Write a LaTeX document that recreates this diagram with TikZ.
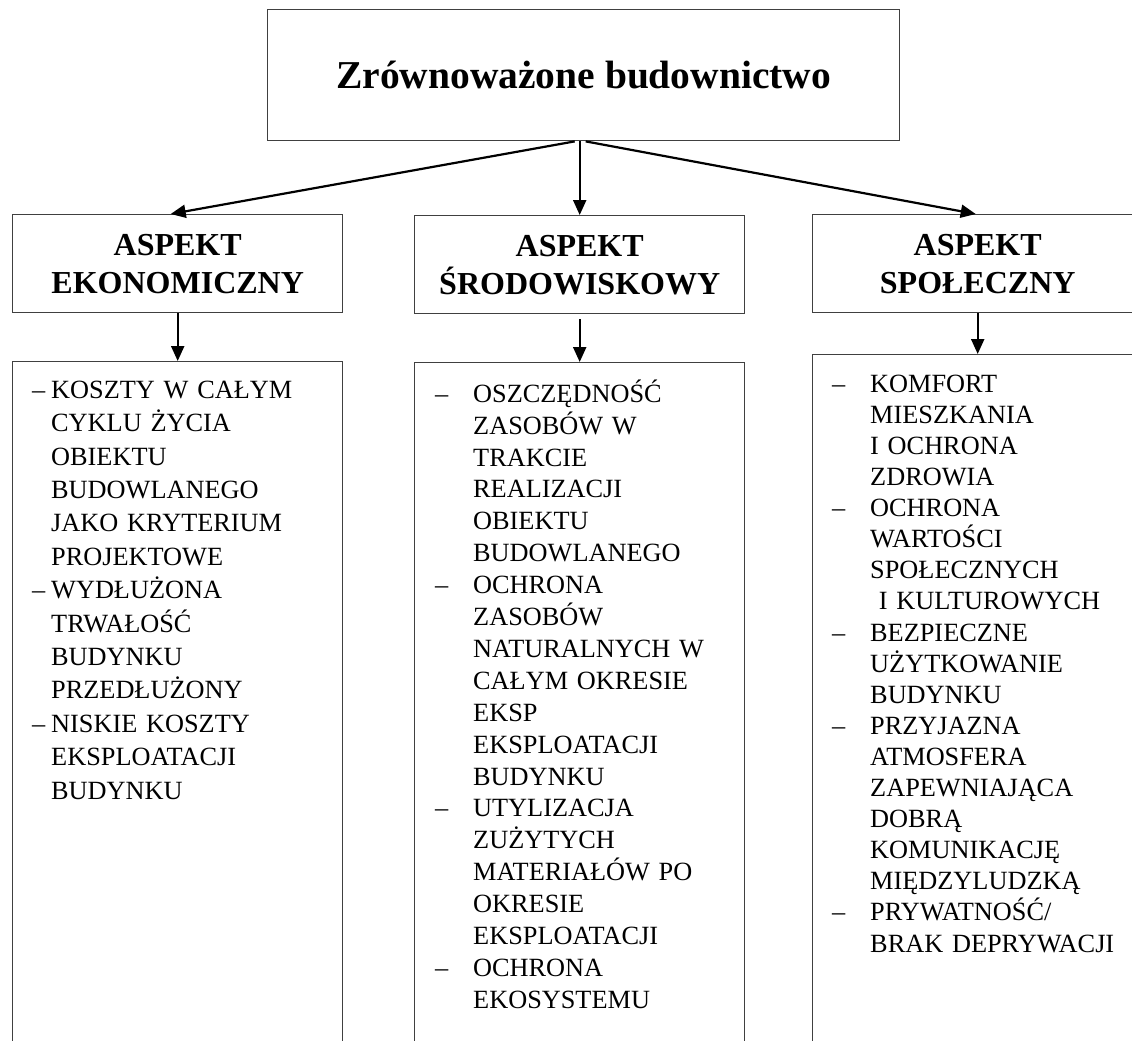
\documentclass[tikz,border=0pt]{standalone}
\usepackage{fontspec}
\setmainfont{Liberation Serif}
\usetikzlibrary{arrows.meta}
\newlength\itemind
\newcommand\dashitem{\makebox[\itemind][l]{–}}
\newcommand\contline{\hspace*{\itemind}}

\begin{document}
\begin{tikzpicture}[x=1pt,y=-1pt,
  frame/.style={draw=black!75, line width=1.4pt, inner sep=0pt},
  headbox/.style={frame, minimum width=330pt, minimum height=98pt, anchor=north west,
    align=center, font=\bfseries\fontsize{32}{38}\selectfont},
  listbox/.style={frame, minimum width=330pt, minimum height=720pt, anchor=north west},
  listtext/.style={anchor=north west, inner sep=0pt, text width=300pt, align=left,
    font=\fontsize{26.3}{#1}\selectfont},
  link/.style={line width=2.2pt, -{Triangle[width=13pt,length=15pt]}},
]
\useasboundingbox (0,0) rectangle (1132,1041);
\clip (0,0) rectangle (1132,1041);

% main box
\node[frame, anchor=north west, minimum width=632pt, minimum height=131pt,
  font=\bfseries\fontsize{39.5}{44}\selectfont] (top) at (267,9) {Zrównoważone budownictwo};

% aspect boxes
\node[headbox] (eco) at (12,214) {ASPEKT\\EKONOMICZNY};
\node[headbox] (env) at (414,215) {ASPEKT\\ŚRODOWISKOWY};
\node[headbox] (soc) at (812,214) {ASPEKT\\SPOŁECZNY};

% list boxes
\node[listbox] (ecolist) at (12,361) {};
\node[listbox] (envlist) at (414,362) {};
\node[listbox] (soclist) at (812,354) {};

% list contents
\node[listtext=33.4, execute at begin node={\setlength\itemind{19pt}}] (ecotxt) at (32,373)
{\noindent\rule{0pt}{25pt}\dashitem KOSZTY W CAŁYM\\
\contline CYKLU ŻYCIA\\
\contline OBIEKTU\\
\contline BUDOWLANEGO\\
\contline JAKO KRYTERIUM\\
\contline PROJEKTOWE\\
\dashitem WYDŁUŻONA\\
\contline TRWAŁOŚĆ\\
\contline BUDYNKU\\
\contline PRZEDŁUŻONY\\
\dashitem NISKIE KOSZTY\\
\contline EKSPLOATACJI\\
\contline BUDYNKU};

\node[listtext=31.9, execute at begin node={\setlength\itemind{38pt}}] (envtxt) at (435,377)
{\noindent\rule{0pt}{25pt}\dashitem OSZCZĘDNOŚĆ\\
\contline ZASOBÓW W\\
\contline TRAKCIE\\
\contline REALIZACJI\\
\contline OBIEKTU\\
\contline BUDOWLANEGO\\
\dashitem OCHRONA\\
\contline ZASOBÓW\\
\contline NATURALNYCH W\\
\contline CAŁYM OKRESIE\\
\contline EKSP\\
\contline EKSPLOATACJI\\
\contline BUDYNKU\\
\dashitem UTYLIZACJA\\
\contline ZUŻYTYCH\\
\contline MATERIAŁÓW PO\\
\contline OKRESIE\\
\contline EKSPLOATACJI\\
\dashitem OCHRONA\\
\contline EKOSYSTEMU};

\node[listtext=31.1, execute at begin node={\setlength\itemind{38pt}}] (soctxt) at (832,367)
{\noindent\rule{0pt}{25pt}\dashitem KOMFORT\\
\contline MIESZKANIA\\
\contline I OCHRONA\\
\contline ZDROWIA\\
\dashitem OCHRONA\\
\contline WARTOŚCI\\
\contline SPOŁECZNYCH\\
\contline\ I KULTUROWYCH\\
\dashitem BEZPIECZNE\\
\contline UŻYTKOWANIE\\
\contline BUDYNKU\\
\dashitem PRZYJAZNA\\
\contline ATMOSFERA\\
\contline ZAPEWNIAJĄCA\\
\contline DOBRĄ\\
\contline KOMUNIKACJĘ\\
\contline MIĘDZYLUDZKĄ\\
\dashitem PRYWATNOŚĆ/\\
\contline BRAK DEPRYWACJI};

% connectors
\draw[link] ([xshift=-9pt]top.south) -- ([xshift=-7pt]eco.north);
\draw[link] (top.south -| env.north) -- (env.north);
\draw[link] ([xshift=2pt]top.south) -- ([xshift=-2pt]soc.north);
\draw[link] (eco.south) -- (ecolist.north);
\draw[link, shorten <=5pt] (env.south) -- (envlist.north);
\draw[link] (soc.south) -- (soclist.north);
\end{tikzpicture}
\end{document}
